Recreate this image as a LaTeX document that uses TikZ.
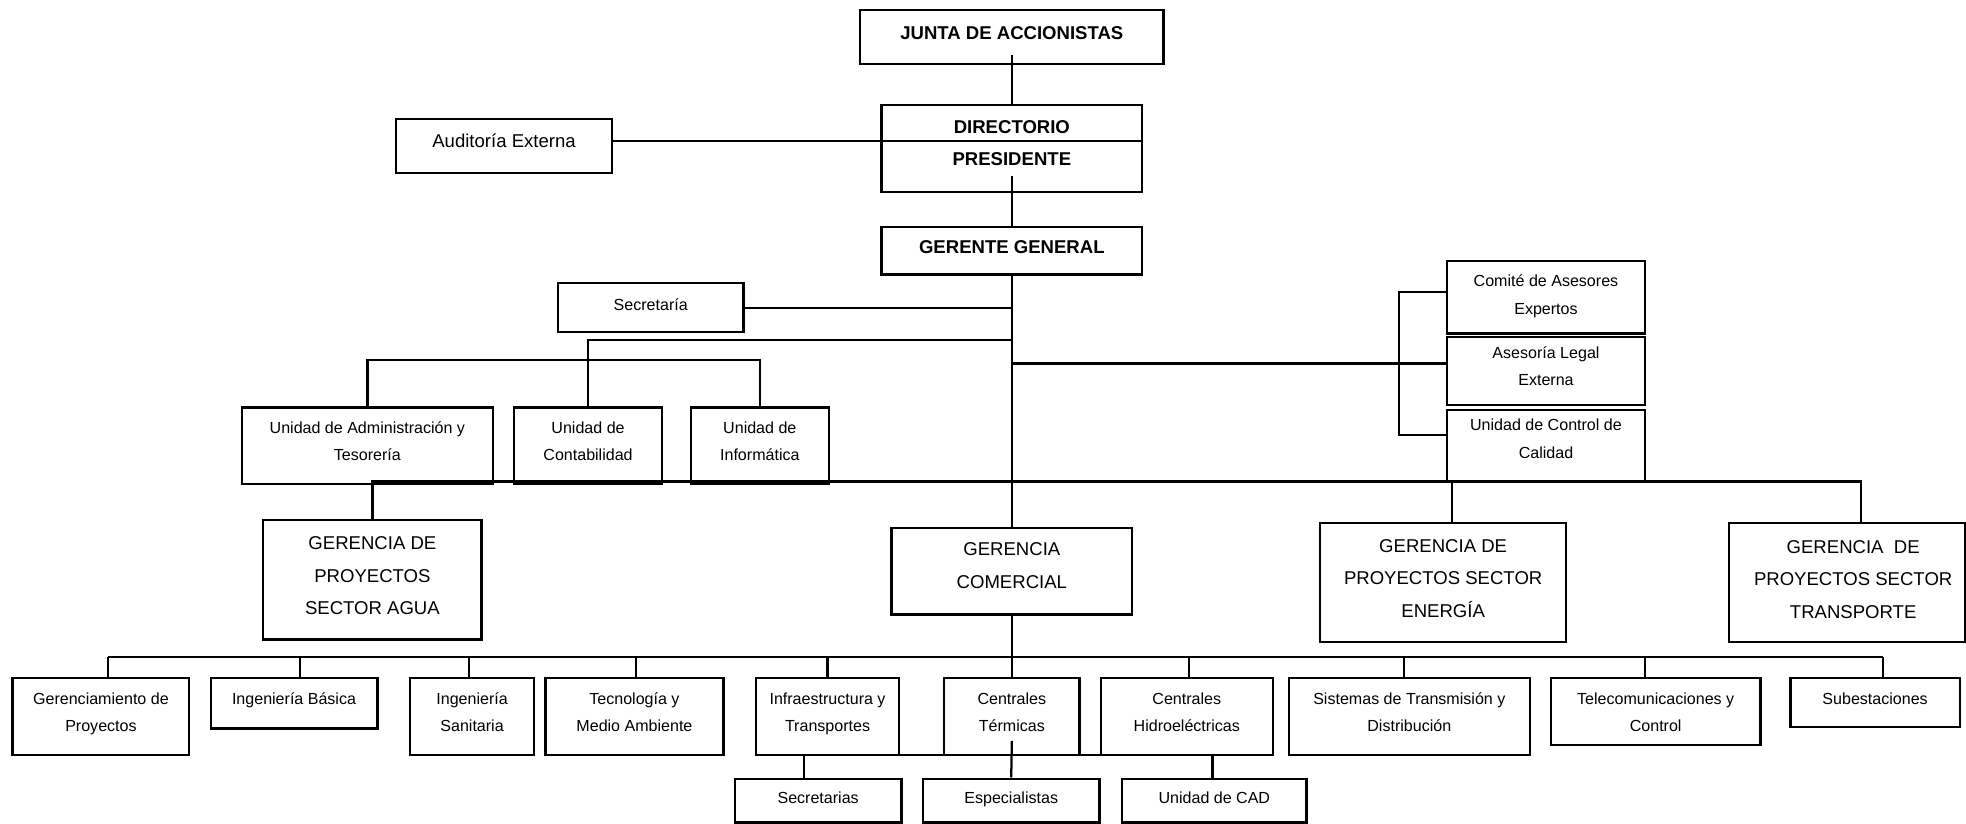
\documentclass[tikz,border=0pt]{standalone}
\usepackage{fontspec}
\setmainfont{Liberation Sans}
\usetikzlibrary{fit}
\tikzset{
  orgbox/.style={draw, line width=0.9pt, inner sep=0pt},
  link/.style={line width=0.9pt},
  small/.style={font=\fontsize{6.4}{11}\selectfont, anchor=base, inner sep=0pt},
  big/.style={font=\fontsize{7.4}{13}\selectfont, anchor=base, inner sep=0pt},
  heavy/.style={font=\fontsize{7.4}{13}\selectfont\bfseries, anchor=base, inner sep=0pt},
}
% box from its two corners
\newcommand\ob[5]{\node[orgbox, fit={(#2,#3)(#4,#5)}] (#1) {};}
% centred lines, baseline on the first line
\newcommand\stack[1]{\vtop{\halign{\hfil##\hfil\cr#1\crcr}}}
\begin{document}
\begin{tikzpicture}[x=0.5pt,y=-0.5pt]
\useasboundingbox (0,0) rectangle (1568,657);

% ---- boxes ----
\ob{junta}{686}{8}{928}{51}
\ob{dir}{703}{84}{911}{153}
\ob{aud}{316}{95}{488}{138}
\ob{ger}{703}{181}{911}{219}
\ob{sec}{445}{226}{593}{265}
\ob{adm}{193}{325}{393}{386}
\ob{cont}{410}{325}{528}{386}
\ob{inf}{551}{325}{661}{386}
\ob{com}{1154}{208}{1312}{266}
\ob{ase}{1154}{269}{1312}{323}
\ob{ctl}{1154}{327}{1312}{384}
\ob{agua}{210}{415}{384}{510}
\ob{comer}{711}{421}{903}{490}
\ob{ener}{1053}{417}{1249}{512}
\ob{trans}{1379}{417}{1567}{512}
\ob{gp}{10}{541}{151}{602}
\ob{ib}{168}{541}{301}{581}
\ob{is}{327}{541}{426}{602}
\ob{tma}{435}{541}{577}{602}
\ob{inft}{603}{541}{717}{602}
\ob{ct}{753}{541}{861}{602}
\ob{ch}{878}{541}{1015}{602}
\ob{std}{1028}{541}{1220}{602}
\ob{tc}{1237}{541}{1404}{594}
\ob{sub}{1428}{541}{1563}{580}
\ob{secs}{586}{621}{719}{656}
\ob{esp}{736}{621}{877}{656}
\ob{cad}{895}{621}{1042}{656}

% ---- connectors ----
\coordinate (dv) at (911,112.5);
\coordinate (br) at (1116,290);
\draw[link] ([yshift=4pt]junta.south) -- (dir.north);
\draw[link] (aud.east |- dv) -- (dv);
\draw[link] ([yshift=6.7pt]dir.south) -- (ger.north);
\draw[link] (ger.south) -- (comer.north);
\draw[link] (sec.east) -- (sec.east -| ger.south);
\draw[link] (cont.north) |- (ger.south |- 0,271);
\draw[link] (adm.north) -- (adm.north |- 0,287) -- (inf.north |- 0,287) -- (inf.north);
\draw[link] (ger.south |- br) -- (br);
\draw[link] (com.west |- 0,233) -- (br |- 0,233) -- (br |- 0,347) -- (ctl.west |- 0,347);
\draw[link] (br) -- (ase.west |- br);
\draw[link] (agua.north) -- (agua.north |- 0,384) -- (1484,384) -- (trans.north -| 1484,0);
\draw[link] (1158,384) -- (ener.north -| 1158,0);
\draw[link] (comer.south) -- (ct.north);
\draw[link] (86,524) -- (1502,524);
\foreach \n/\x in {gp/86, ib/239, is/374, tma/507, inft/660, ch/948, std/1120, tc/1312, sub/1502}
  {\draw[link] (\x,524) -- (\n.north -| \x,0);}
\draw[link] ([yshift=6pt]ct.south) -- (esp.north);
\draw[link] (secs.north -| 641,0) -- (641,602) -- (967,602) -- (cad.north -| 967,0);

% ---- texts ----
\node[heavy] at (junta.center |- 0,31.3) {JUNTA DE ACCIONISTAS};
\node[heavy] at (dir.center |- 0,106.3) {DIRECTORIO};
\node[heavy] at (dir.center |- 0,132.3) {PRESIDENTE};
\node[big] at (aud.center |- 0,117.3) {Auditoría Externa};
\node[heavy] at (ger.center |- 0,202.3) {GERENTE GENERAL};
\node[small] at (sec.center |- 0,247.6) {Secretaría};
\node[small] at (adm.center |- 0,345.6) {\stack{Unidad de Administración y\cr Tesorería}};
\node[small] at (cont.center |- 0,345.6) {\stack{Unidad de\cr Contabilidad}};
\node[small] at (inf.center |- 0,345.6) {\stack{Unidad de\cr Informática}};
\node[small] at (com.center |- 0,228.6) {\stack{Comité de Asesores\cr Expertos}};
\node[small] at (ase.center |- 0,285.6) {\stack{Asesoría Legal\cr Externa}};
\node[small] at (ctl.center |- 0,343.6) {\stack{Unidad de Control de\cr Calidad}};
\node[big] at (agua.center |- 0,438.3) {\stack{GERENCIA DE\cr PROYECTOS\cr SECTOR AGUA}};
\node[big] at (comer.center |- 0,443.3) {\stack{GERENCIA\cr COMERCIAL}};
\node[big] at (ener.center |- 0,440.3) {\stack{GERENCIA DE\cr PROYECTOS SECTOR\cr ENERGÍA}};
\node[big] at (1478,441.3) {\stack{GERENCIA\ \ DE\cr PROYECTOS SECTOR\cr TRANSPORTE}};
\node[small] at (gp.center |- 0,561.6) {\stack{Gerenciamiento de\cr Proyectos}};
\node[small] at (ib.center |- 0,561.6) {Ingeniería Básica};
\node[small] at (is.center |- 0,561.6) {\stack{Ingeniería\cr Sanitaria}};
\node[small] at (tma.center |- 0,561.6) {\stack{Tecnología y\cr Medio Ambiente}};
\node[small] at (inft.center |- 0,561.6) {\stack{Infraestructura y\cr Transportes}};
\node[small] at (ct.center |- 0,561.6) {\stack{Centrales\cr Térmicas}};
\node[small] at (ch.center |- 0,561.6) {\stack{Centrales\cr Hidroeléctricas}};
\node[small] at (std.center |- 0,561.6) {\stack{Sistemas de Transmisión y\cr Distribución}};
\node[small] at (tc.center |- 0,561.6) {\stack{Telecomunicaciones y\cr Control}};
\node[small] at (sub.center |- 0,561.6) {Subestaciones};
\node[small] at (secs.center |- 0,640.6) {Secretarias};
\node[small] at (esp.center |- 0,640.6) {Especialistas};
\node[small] at (cad.center |- 0,640.6) {Unidad de CAD};
\end{tikzpicture}
\end{document}
